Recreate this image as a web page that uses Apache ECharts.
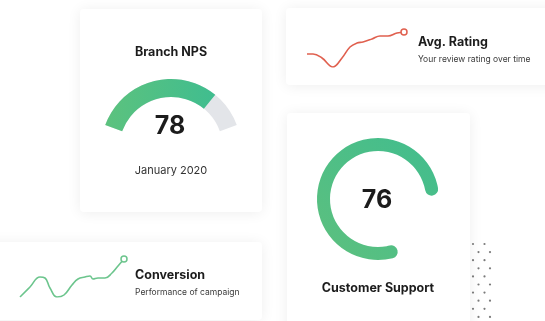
<!DOCTYPE html>
<html>
<head>
<meta charset="utf-8">
<script src="https://cdn.jsdelivr.net/npm/echarts@6/dist/echarts.min.js"></script>
<style>
html,body{margin:0;padding:0;background:#ffffff;}
#chart{width:545px;height:321px;}
</style>
</head>
<body>
<div id="chart"></div>
<script>
// ---- data ----
var npsValue = 78;
var npsTitle = 'Branch NPS';
var npsPeriod = 'January 2020';

var supportValue = 76;
var supportTitle = 'Customer Support';

var ratingTitle = 'Avg. Rating';
var ratingSubtitle = 'Your review rating over time';
var ratingX = [0, 6, 15, 26, 35, 43, 50, 56, 65, 73, 81, 90, 97];
var ratingY = [16, 16, 12, 3, 12, 23, 27, 28, 31, 34, 34, 37, 38];

var convTitle = 'Conversion';
var convSubtitle = 'Performance of campaign';
var convX = [0, 10, 20, 25, 30, 37, 44, 52, 58, 65, 70, 73, 78, 85, 92, 98, 104];
var convY = [3, 13, 23, 22, 12, 3, 5, 15, 21, 23, 24, 21, 22, 22, 27, 34, 41];

function pairs(xs, ys) { return xs.map(function (x, i) { return [x, ys[i]]; }); }

var FONT = 'Inter, "Open Sans", sans-serif';
var DARK = '#1c1c1c';

var chart = echarts.init(document.getElementById('chart'), null, { renderer: 'canvas' });

function card(x, y, w, h) {
  return {
    type: 'rect', z: 0, silent: true,
    shape: { x: x, y: y, width: w, height: h, r: 4 },
    style: { fill: '#ffffff', shadowBlur: 14, shadowColor: 'rgba(0,0,0,0.07)', shadowOffsetY: 1 }
  };
}

var graphics = [
  card(80, 9, 182, 203),
  card(286, 8, 290, 77),
  card(287, 113, 183, 240),
  card(-20, 242, 282, 78)
];
// decorative dot pattern
for (var r = 0; r < 10; r++) {
  for (var c = 0; c < 2; c++) {
    graphics.push({
      type: 'circle', z: 1, silent: true,
      shape: { cx: 473 + (r % 2) * 5.5 + c * 11.5, cy: 244 + r * 8.1, r: 1.1 },
      style: { fill: '#7a7a7a' }
    });
  }
}

var greenGrad = new echarts.graphic.LinearGradient(0, 0, 1, 0, [
  { offset: 0, color: '#5cc27e' }, { offset: 1, color: '#40bd8f' }
]);
var ringGrad = new echarts.graphic.LinearGradient(0, 1, 1, 0, [
  { offset: 0, color: '#5dc07e' }, { offset: 1, color: '#41bd8e' }
]);

function txt(text, left, top, size, weight, color, align) {
  return { text: text, left: left, top: top, padding: 0, textAlign: align || 'left',
    textStyle: { fontFamily: FONT, fontSize: size, fontWeight: weight, color: color } };
}

var option = {
  animation: false,
  backgroundColor: 'transparent',
  graphic: graphics,
  title: [
    txt(npsTitle, 171, 46, 12.5, 'bold', DARK, 'center'),
    txt(npsPeriod, 171, 165, 11, 'normal', '#333', 'center'),
    txt(ratingTitle, 418, 36, 12.5, 'bold', DARK),
    txt(ratingSubtitle, 418, 55, 8.5, 'normal', '#3a3a3a'),
    txt(supportTitle, 378, 282, 12.5, 'bold', DARK, 'center'),
    txt(convTitle, 135, 269, 12.5, 'bold', DARK),
    txt(convSubtitle, 135, 288, 8.5, 'normal', '#3a3a3a')
  ],
  grid: [
    { left: 307, width: 97, top: 32, height: 35 },
    { left: 20, width: 104, top: 259, height: 38 }
  ],
  xAxis: [
    { type: 'value', gridIndex: 0, min: 0, max: 97, show: false },
    { type: 'value', gridIndex: 1, min: 0, max: 104, show: false }
  ],
  yAxis: [
    { type: 'value', gridIndex: 0, min: 3, max: 38, show: false },
    { type: 'value', gridIndex: 1, min: 3, max: 41, show: false }
  ],
  series: [
    {
      type: 'gauge', center: [171, 149], radius: 70,
      startAngle: 160, endAngle: 20, min: 0, max: 100,
      axisLine: { lineStyle: { width: 18, color: [[1, '#e3e5e9']] } },
      progress: { show: true, width: 18, itemStyle: { color: greenGrad } },
      pointer: { show: false }, axisTick: { show: false }, splitLine: { show: false },
      axisLabel: { show: false }, title: { show: false }, anchor: { show: false },
      detail: { offsetCenter: [-1, -23], fontFamily: FONT, fontSize: 25, fontWeight: 'bold',
        color: DARK, formatter: '{value}' },
      data: [{ value: npsValue }]
    },
    {
      type: 'gauge', center: [378, 199], radius: 61,
      startAngle: -76, endAngle: -436, min: 0, max: 100,
      axisLine: { roundCap: true, lineStyle: { width: 13, color: [[1, 'rgba(0,0,0,0)']] } },
      progress: { show: true, width: 13, roundCap: true, itemStyle: { color: ringGrad } },
      pointer: { show: false }, axisTick: { show: false }, splitLine: { show: false },
      axisLabel: { show: false }, title: { show: false }, anchor: { show: false },
      detail: { offsetCenter: [-1, 1], fontFamily: FONT, fontSize: 25, fontWeight: 'bold',
        color: DARK, formatter: '{value}' },
      data: [{ value: supportValue }]
    },
    {
      type: 'line', xAxisIndex: 0, yAxisIndex: 0, smooth: 0.4,
      data: pairs(ratingX, ratingY),
      lineStyle: { color: '#e0604f', width: 1.6 },
      symbol: function (v, p) { return p.dataIndex === ratingX.length - 1 ? 'circle' : 'none'; },
      symbolSize: 6, showSymbol: true,
      itemStyle: { color: '#ffffff', borderColor: '#e0604f', borderWidth: 1.5 }
    },
    {
      type: 'line', xAxisIndex: 1, yAxisIndex: 1, smooth: 0.45,
      data: pairs(convX, convY),
      lineStyle: { color: '#6cc58d', width: 1.6 },
      symbol: function (v, p) { return p.dataIndex === convX.length - 1 ? 'circle' : 'none'; },
      symbolSize: 6, showSymbol: true,
      itemStyle: { color: '#ffffff', borderColor: '#6cc58d', borderWidth: 1.5 }
    }
  ]
};
chart.setOption(option);
</script>
</body>
</html>
